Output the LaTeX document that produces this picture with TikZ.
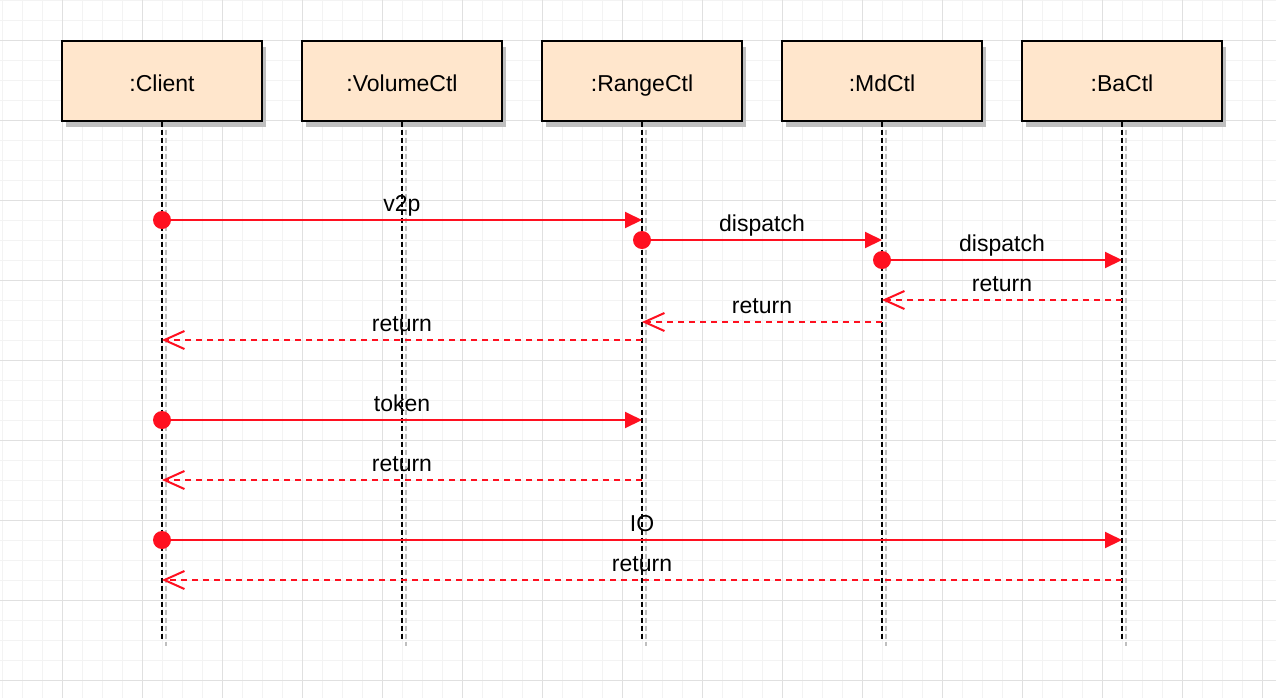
\documentclass[tikz,border=0pt]{standalone}
\usepackage{fontspec}
\setmainfont{Liberation Sans}
\usetikzlibrary{arrows.meta, shadows}
\usepackage{xcolor}
\definecolor{msgred}{HTML}{FF1020}
\definecolor{boxfill}{HTML}{FFE6CC}
\definecolor{gridminor}{HTML}{F3F3F3}
\definecolor{gridmajor}{HTML}{E0E0E0}

\begin{document}
\begin{tikzpicture}[x=0.5pt, y=-0.5pt,
	lifebox/.style={draw=black, line width=0.7pt, fill=boxfill, minimum width=100pt, minimum height=40pt, inner sep=0pt, text height=10.7pt, text depth=0pt, drop shadow={shadow xshift=2pt, shadow yshift=-3pt, fill=black!25, opacity=1}},
	lifeline/.style={black, line width=0.75pt, dash pattern=on 2.5pt off 1.5pt},
	lifeshadow/.style={black!25, line width=0.75pt, dash pattern=on 2.5pt off 1.5pt},
	call/.style={msgred, line width=1pt, -{Triangle[length=8.5pt, width=8pt]}},
	reply/.style={msgred, line width=1pt, dash pattern=on 3pt off 2.5pt, -{Straight Barb[length=10pt, width=9pt]}},
	msglabel/.style={anchor=base, yshift=4.2pt, inner sep=0pt, text=black}]
				\newcommand{\myfontnames}[1]{
					\fontsize{11.5}{14}\selectfont{#1}
				}%Page and grid
				\useasboundingbox (0,0) rectangle (1276,698);
				\fill[white] (0,0) rectangle (1276,698);
				\foreach \gx in {2,22,...,1262} {
					\draw[gridminor, line width=0.5pt] (\gx,0) -- (\gx,698);
				}
				\foreach \gy in {0,20,...,680} {
					\draw[gridminor, line width=0.5pt] (0,\gy) -- (1276,\gy);
				}
				\foreach \gx in {62,142,...,1262} {
					\draw[gridmajor, line width=0.5pt] (\gx,0) -- (\gx,698);
				}
				\foreach \gy in {40,120,...,680} {
					\draw[gridmajor, line width=0.5pt] (0,\gy) -- (1276,\gy);
				}
				%The objects
				\node [lifebox] (client) at (162,81) {\myfontnames{:Client}};
				\node [lifebox] (volumectl) at (402,81) {\myfontnames{:VolumeCtl}};
				\node [lifebox] (rangectl) at (642,81) {\myfontnames{:RangeCtl}};
				\node [lifebox] (mdctl) at (882,81) {\myfontnames{:MdCtl}};
				\node [lifebox] (bactl) at (1122,81) {\myfontnames{:BaCtl}};
				%Lower ends of the lifelines
				\coordinate (clientEnd) at (162,640);
				\coordinate (volumectlEnd) at (402,640);
				\coordinate (rangectlEnd) at (642,640);
				\coordinate (mdctlEnd) at (882,640);
				\coordinate (bactlEnd) at (1122,640);
				%Lifelines with their shadow
				\foreach \obj in {client,volumectl,rangectl,mdctl,bactl} {
					\draw[lifeshadow] ([xshift=2pt]\obj.south) -- ([xshift=2pt,yshift=-3pt]\obj End);
					\draw[lifeline] (\obj.south) -- (\obj End);
				}
				%Messages v2p
				\coordinate (v2pFrom) at (162,220);
				\coordinate (v2pTo) at (642,220);
				\draw[call] (v2pFrom) -- node[msglabel] {\myfontnames{v2p}} (v2pTo);
				\fill[msgred] (v2pFrom) circle (4.5pt);
				%dispatch to MdCtl
				\coordinate (dispMdFrom) at (642,240);
				\coordinate (dispMdTo) at (882,240);
				\draw[call] (dispMdFrom) -- node[msglabel] {\myfontnames{dispatch}} (dispMdTo);
				\fill[msgred] (dispMdFrom) circle (4.5pt);
				%dispatch to BaCtl
				\coordinate (dispBaFrom) at (882,260);
				\coordinate (dispBaTo) at (1122,260);
				\draw[call] (dispBaFrom) -- node[msglabel] {\myfontnames{dispatch}} (dispBaTo);
				\fill[msgred] (dispBaFrom) circle (4.5pt);
				%Returns of v2p
				\coordinate (retBaFrom) at (1122,300);
				\coordinate (retBaTo) at (882,300);
				\draw[reply] (retBaFrom) -- node[msglabel] {\myfontnames{return}} (retBaTo);
				\coordinate (retMdFrom) at (882,322);
				\coordinate (retMdTo) at (642,322);
				\draw[reply] (retMdFrom) -- node[msglabel] {\myfontnames{return}} (retMdTo);
				\coordinate (retRangeFrom) at (642,340);
				\coordinate (retRangeTo) at (162,340);
				\draw[reply] (retRangeFrom) -- node[msglabel] {\myfontnames{return}} (retRangeTo);
				%token
				\coordinate (tokenFrom) at (162,420);
				\coordinate (tokenTo) at (642,420);
				\draw[call] (tokenFrom) -- node[msglabel] {\myfontnames{token}} (tokenTo);
				\fill[msgred] (tokenFrom) circle (4.5pt);
				\coordinate (retTokenFrom) at (642,480);
				\coordinate (retTokenTo) at (162,480);
				\draw[reply] (retTokenFrom) -- node[msglabel] {\myfontnames{return}} (retTokenTo);
				%IO
				\coordinate (ioFrom) at (162,540);
				\coordinate (ioTo) at (1122,540);
				\draw[call] (ioFrom) -- node[msglabel] {\myfontnames{IO}} (ioTo);
				\fill[msgred] (ioFrom) circle (4.5pt);
				\coordinate (retIoFrom) at (1122,580);
				\coordinate (retIoTo) at (162,580);
				\draw[reply] (retIoFrom) -- node[msglabel] {\myfontnames{return}} (retIoTo);
\end{tikzpicture}
\end{document}
